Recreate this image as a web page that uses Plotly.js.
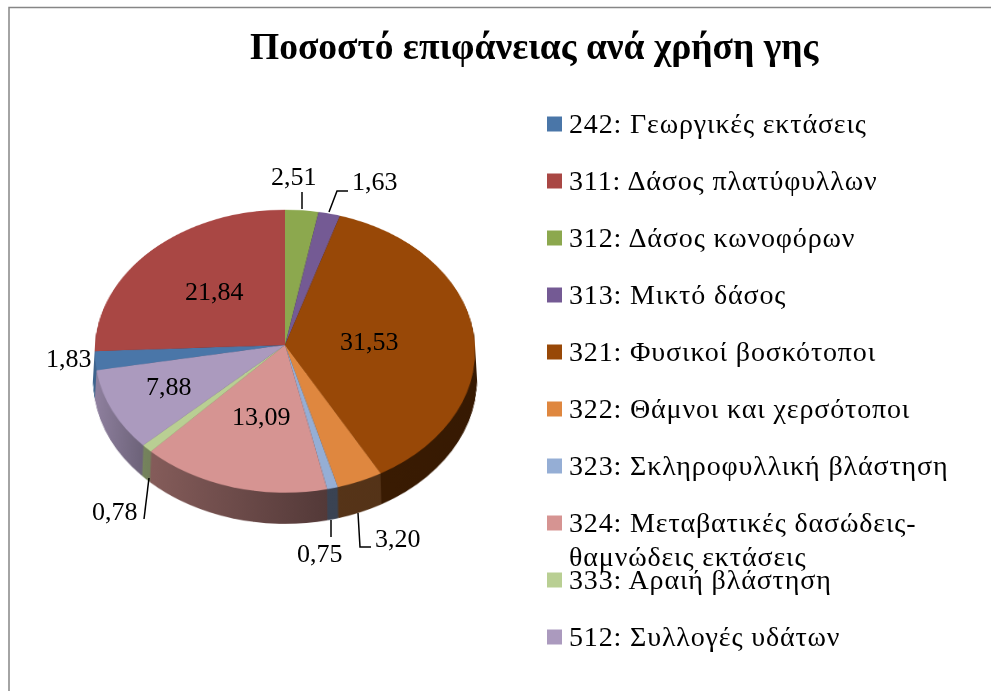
<!DOCTYPE html>
<html><head><meta charset="utf-8">
<script src="https://cdn.plot.ly/plotly-3.0.1.min.js"></script>
<style>html,body{margin:0;padding:0;background:#fff;overflow:hidden}#c{width:992px;height:691px}</style>
</head><body><div id="c"></div>
<script>
const categories = ['242: Γεωργικές εκτάσεις','311: Δάσος πλατύφυλλων','312: Δάσος κωνοφόρων','313: Μικτό δάσος','321: Φυσικοί βοσκότοποι','322: Θάμνοι και χερσότοποι','323: Σκληροφυλλική βλάστηση','324: Μεταβατικές δασώδεις-<br>θαμνώδεις εκτάσεις','333: Αραιή βλάστηση','512: Συλλογές υδάτων'];
const values = [1.83,21.84,2.51,1.63,31.53,3.20,0.75,13.09,0.78,7.88];
const colors = ['#4a76a8','#a94744','#8ca84e','#745a94','#984807','#df873f','#95aed5','#d69492','#b9cf93','#ab9abe'];
const titleText = 'Ποσοστό επιφάνειας ανά χρήση γης';
// value-label centres (px)
const labelX = [69,214,294,375,369,398,320,261,115,169];
const labelY = [358,291,176,181,341,538,553,416,511,387];
// leader lines (px)
const leaders = [
  [[302,192],[302,209]],
  [[348,191],[337,191],[329,212]],
  [[144,519],[149,478]],
  [[331,520],[331,537]],
  [[358,513],[360,547],[371,547]]
];
const W=992,H=691,CX=285,CY=345,R=190,DEPTH=38;
const sideStops=[[-190,.85],[-135,.63],[40,.39],[190,.36]];
const rotation=-values.slice(0,2).reduce((a,b)=>a+b,0)/values.reduce((a,b)=>a+b,0)*360;
const px=x=>x/W, py=y=>1-y/H;
function pieAt(dy){
  return {type:'pie',values:values,labels:categories,sort:false,direction:'clockwise',rotation:rotation,
    textinfo:'none',hoverinfo:'skip',showlegend:false,
    marker:{colors:colors,line:{width:0}},
    domain:{x:[px(CX-R),px(CX+R)],y:[py(CY+dy+R),py(CY+dy-R)]}};
}
const data=[];
for(let k=DEPTH;k>=0;k--) data.push(pieAt(k));
const ann=[],shapes=[];
values.forEach((v,i)=>{
  ann.push({xref:'paper',yref:'paper',x:px(labelX[i]),y:py(labelY[i]),xanchor:'center',yanchor:'middle',showarrow:false,
    text:v.toFixed(2).replace('.',','),font:{family:'Liberation Serif',size:26,color:'#000'}});
});
const legendStart=ann.length;
categories.forEach((c,i)=>{
  const yc=124+57*i;
  shapes.push({type:'rect',xref:'paper',yref:'paper',layer:'above',x0:px(547),x1:px(562),y0:py(yc+7.5),y1:py(yc-7.5),fillcolor:colors[i],line:{width:0}});
  ann.push({xref:'paper',yref:'paper',x:px(567),y:py(yc-18),xanchor:'left',yanchor:'top',align:'left',showarrow:false,
    text:c,font:{family:'Liberation Serif',size:28,color:'#000'}});
});
leaders.forEach(l=>{
  shapes.push({type:'path',xref:'paper',yref:'paper',layer:'above',
    path:l.map((q,i)=>(i?'L':'M')+px(q[0])+','+py(q[1])).join(' '),line:{color:'#000',width:1.5}});
});
shapes.push({type:'path',xref:'paper',yref:'paper',layer:'above',path:`M${px(9)},${py(691)} L${px(9)},${py(7.5)} L${px(991)},${py(7.5)}`,line:{color:'#868686',width:1.5}});
ann.push({xref:'paper',yref:'paper',x:px(535),y:py(46),xanchor:'center',yanchor:'middle',showarrow:false,text:'<b>'+titleText+'</b>',font:{family:'Liberation Serif',size:37.5,color:'#000'}});
const layout={width:W,height:H,margin:{l:0,r:0,t:0,b:0,pad:0},paper_bgcolor:'rgba(0,0,0,0)',plot_bgcolor:'rgba(0,0,0,0)',annotations:ann,shapes:shapes,showlegend:false};
Plotly.newPlot('c',data,layout,{displayModeBar:false,staticPlot:true,responsive:false}).then(gd=>{
  const svg=gd.querySelector('.main-svg');
  const defs=svg.querySelector('defs');
  const NS='http://www.w3.org/2000/svg';
  colors.forEach((c,j)=>{
    const g=document.createElementNS(NS,'linearGradient');
    g.setAttribute('id','side'+j);g.setAttribute('gradientUnits','userSpaceOnUse');
    g.setAttribute('x1',CX-190);g.setAttribute('x2',CX+190);g.setAttribute('y1',0);g.setAttribute('y2',0);
    const r=parseInt(c.slice(1,3),16),gg=parseInt(c.slice(3,5),16),b=parseInt(c.slice(5,7),16);
    sideStops.forEach(s=>{
      const st=document.createElementNS(NS,'stop');
      st.setAttribute('offset',(s[0]+190)/380);
      st.setAttribute('stop-color',`rgb(${r*s[1]|0},${gg*s[1]|0},${b*s[1]|0})`);
      g.appendChild(st);
    });
    defs.appendChild(g);
  });
  const traces=svg.querySelectorAll('.pielayer .trace');
  traces.forEach((t,i)=>{
    if(i===traces.length-1) return;
    t.querySelectorAll('.slice').forEach((s,j)=>{
      s.querySelector('path.surface').style.setProperty('fill','url(#side'+j+')');
    });
  });
  svg.style.transformOrigin=CX+'px '+CY+'px';
  svg.style.transform='perspective(2917px) rotateX(42deg)';
  const texts=gd.querySelectorAll('.annotation-text');
  for(let i=legendStart;i<legendStart+categories.length;i++){
    texts[i].style.letterSpacing='0.85px';
    const lines=texts[i].querySelectorAll('tspan.line');
    if(lines.length>1){
      lines[1].removeAttribute('y');
      lines[1].setAttribute('dy','34px');
    }
  }
});
</script></body></html>
